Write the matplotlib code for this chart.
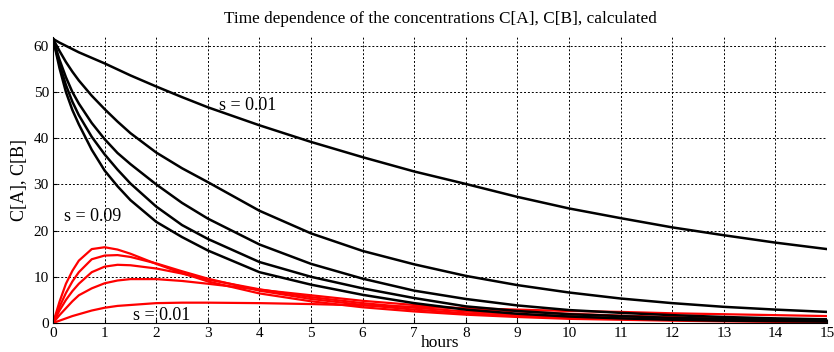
import numpy as np
import matplotlib
matplotlib.use("Agg")
from matplotlib import pyplot as plt

# time grid used for all read-off values (hours)
t = [0, 0.125, 0.25, 0.375, 0.5, 0.75, 1, 1.25, 1.5, 2, 2.5, 3, 4, 5, 6, 7, 8, 9, 10, 11, 12, 13, 14, 15]

# C[A] curves (black), slowest decay first
ca_1 = [61.5, 60.7, 60.0, 59.3, 58.6, 57.4, 56.2, 54.9, 53.6, 51.2, 48.9, 46.7, 42.8, 39.2, 35.9, 32.8, 30.1, 27.3, 24.8, 22.7, 20.7, 19.0, 17.4, 16.0]
ca_2 = [61.5, 58.9, 56.5, 54.4, 52.5, 49.2, 46.3, 43.6, 41.1, 36.9, 33.5, 30.5, 24.3, 19.4, 15.6, 12.7, 10.2, 8.2, 6.6, 5.3, 4.3, 3.5, 2.9, 2.4]
ca_3 = [61.5, 57.0, 53.2, 50.0, 47.5, 43.3, 39.8, 36.8, 34.4, 30.0, 26.0, 22.6, 17.0, 12.8, 9.6, 7.0, 5.2, 3.8, 2.8, 2.2, 1.7, 1.3, 1.0, 0.8]
ca_4 = [61.5, 56.0, 51.5, 47.9, 45.0, 40.3, 36.5, 33.2, 30.2, 25.2, 21.2, 18.2, 13.2, 10.0, 7.5, 5.4, 3.6, 2.6, 1.9, 1.5, 1.1, 0.9, 0.7, 0.5]
ca_5 = [61.5, 55.2, 50.0, 46.1, 43.0, 37.5, 33.0, 29.6, 26.6, 21.9, 18.6, 15.7, 11.0, 8.3, 6.1, 4.3, 2.9, 2.0, 1.4, 1.0, 0.7, 0.5, 0.4, 0.3]

# C[B] curves (red), highest peak first
cb_1 = [0, 4.6, 8.5, 11.3, 13.5, 16.0, 16.4, 15.9, 15.0, 12.8, 10.8, 9.0, 6.4, 4.7, 3.4, 2.5, 1.8, 1.3, 0.9, 0.7, 0.5, 0.35, 0.25, 0.2]
cb_2 = [0, 3.5, 6.5, 9.0, 11.0, 13.8, 14.6, 14.7, 14.3, 12.9, 11.2, 9.6, 7.0, 5.2, 3.9, 2.9, 2.1, 1.6, 1.2, 0.9, 0.7, 0.5, 0.4, 0.3]
cb_3 = [0, 2.7, 5.0, 6.9, 8.5, 11.0, 12.2, 12.6, 12.5, 11.8, 10.7, 9.4, 7.3, 5.6, 4.3, 3.3, 2.5, 1.9, 1.5, 1.1, 0.9, 0.7, 0.5, 0.4]
cb_4 = [0, 1.7, 3.2, 4.7, 6.0, 7.5, 8.6, 9.2, 9.5, 9.5, 9.1, 8.5, 7.2, 6.0, 4.8, 3.9, 3.1, 2.5, 2.0, 1.6, 1.3, 1.0, 0.8, 0.7]
cb_5 = [0, 0.5, 1.0, 1.5, 1.9, 2.7, 3.3, 3.7, 3.9, 4.3, 4.4, 4.4, 4.3, 4.1, 3.8, 3.5, 3.2, 2.9, 2.6, 2.4, 2.1, 1.9, 1.7, 1.5]

ca_curves = [ca_1, ca_2, ca_3, ca_4, ca_5]
cb_curves = [cb_1, cb_2, cb_3, cb_4, cb_5]

serif = ["Liberation Serif", "DejaVu Serif"]
plt.rcParams["font.family"] = serif

fig = plt.figure(figsize=(8.34, 3.52), dpi=100)
ax = fig.add_axes([0.0636, 0.0824, 0.928, 0.8136])

for c in cb_curves:
    ax.plot(t, c, color="red", lw=1.6)
for c in ca_curves:
    ax.plot(t, c, color="black", lw=1.8)

ax.set_xlim(0, 15)
ax.set_ylim(0, 62)
ax.set_xticks(range(0, 16))
ax.set_yticks(range(0, 61, 10))
ax.grid(True, color="black", linestyle=(0, (2, 2)), linewidth=0.7)
ax.tick_params(direction="in", length=3, labelsize=11, pad=3)
for side in ["top", "right"]:
    ax.spines[side].set_visible(False)

ax.set_title("Time dependence of the concentrations C[A], C[B], calculated", fontsize=12.4, pad=10)
ax.set_xlabel("hours", fontsize=12.5, labelpad=-3.5)
ax.set_ylabel("C[A], C[B]", fontsize=13, labelpad=4)

ax.text(3.78, 47.1, "s = 0.01", fontsize=13, ha="center", va="center")
ax.text(0.76, 23.0, "s = 0.09", fontsize=13, ha="center", va="center")
ax.text(2.1, 1.6, "s = 0.01", fontsize=13, ha="center", va="center")

fig.savefig("out.png", dpi=100)
